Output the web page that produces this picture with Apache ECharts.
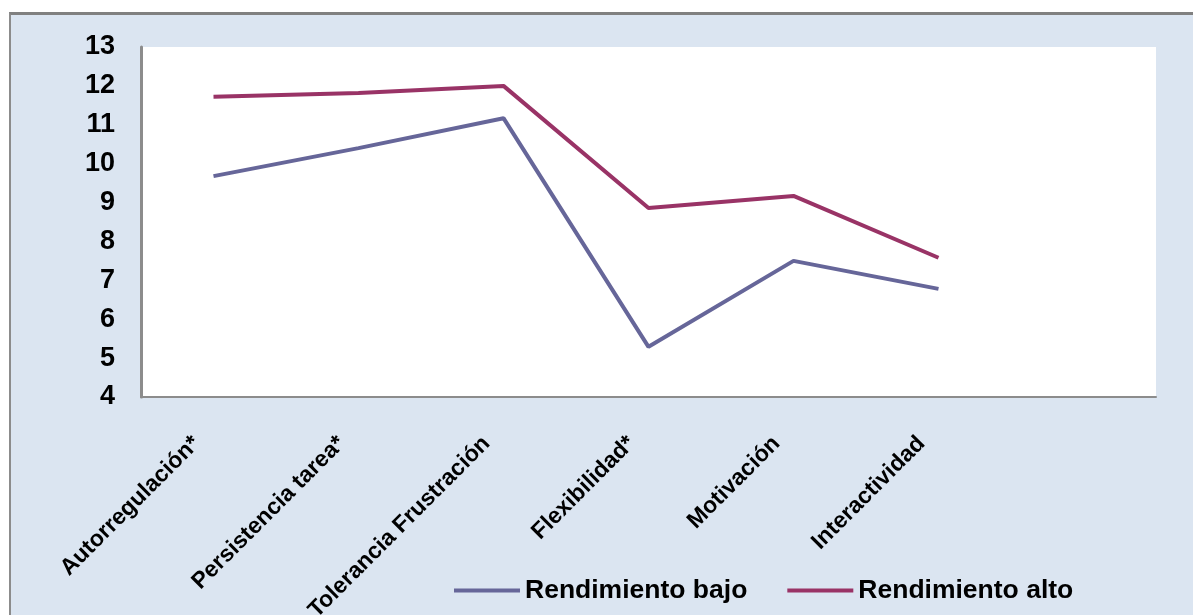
<!DOCTYPE html>
<html>
<head>
<meta charset="utf-8">
<script src="https://cdn.jsdelivr.net/npm/echarts@6/dist/echarts.min.js"></script>
<style>
  html, body { margin: 0; padding: 0; background: #ffffff; }
  #panel { position: absolute; left: 9px; top: 12px; width: 1184px; height: 603px;
           background: #dbe5f1; border-top: 3px solid #808080; border-left: 2px solid #8c8c8c; box-sizing: border-box; }
  #chart { position: absolute; left: 0; top: 0; width: 1193px; height: 615px; }
</style>
</head>
<body>
<div id="panel"></div>
<div id="chart"></div>
<script>
const categories = ['Autorregulación*', 'Persistencia tarea*', 'Tolerancia Frustración', 'Flexibilidad*', 'Motivación', 'Interactividad', ''];
const rendimientoBajo = [9.68, 10.4, 11.17, 5.29, 7.5, 6.78, null];
const rendimientoAlto = [11.72, 11.82, 12.0, 8.86, 9.17, 7.58, null];
const yTicks = { min: 4, max: 13, interval: 1 };

const FONT = '"Liberation Sans", Arial, sans-serif';
const chart = echarts.init(document.getElementById('chart'), null, { renderer: 'canvas' });
chart.setOption({
  backgroundColor: 'transparent',
  animation: false,
  grid: { left: 141, right: 37, top: 47, bottom: 218, show: true, backgroundColor: '#ffffff', borderWidth: 0,
          containLabel: false, outerBoundsMode: 'none' },
  legend: {
    left: 449, top: 572,
    icon: 'rect',
    itemWidth: 66, itemHeight: 4, itemGap: 40,
    textStyle: { fontFamily: FONT, fontWeight: 'bold', fontSize: 26.5, color: '#000000' },
    data: ['Rendimiento bajo', 'Rendimiento alto']
  },
  xAxis: {
    type: 'category',
    data: categories,
    boundaryGap: true,
    axisLine: { show: true, lineStyle: { color: '#8c8c8c', width: 2 } },
    axisTick: { show: false },
    splitLine: { show: false },
    axisLabel: {
      interval: 0, rotate: 45, margin: 26,
      padding: [0, 24, 0, 0],
      fontFamily: FONT, fontWeight: 'bold', fontSize: 23, color: '#000000'
    }
  },
  yAxis: {
    type: 'value',
    min: yTicks.min, max: yTicks.max, interval: yTicks.interval,
    axisLine: { show: true, lineStyle: { color: '#8c8c8c', width: 3 } },
    axisTick: { show: false },
    splitLine: { show: false },
    axisLabel: { margin: 26, padding: [4, 0, 0, 0], fontFamily: FONT, fontWeight: 'bold', fontSize: 27, color: '#000000' }
  },
  series: [
    {
      name: 'Rendimiento bajo', type: 'line', data: rendimientoBajo,
      symbol: 'none', lineStyle: { color: '#666699', width: 4 }, itemStyle: { color: '#666699' }
    },
    {
      name: 'Rendimiento alto', type: 'line', data: rendimientoAlto,
      symbol: 'none', lineStyle: { color: '#993366', width: 4 }, itemStyle: { color: '#993366' }
    }
  ]
});
</script>
</body>
</html>
